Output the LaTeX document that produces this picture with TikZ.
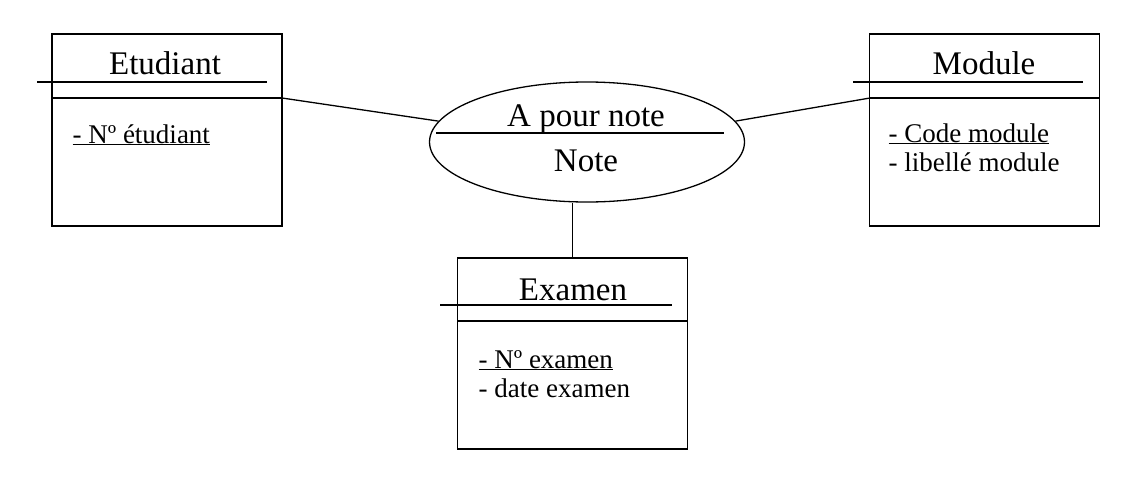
\documentclass[tikz,border=0pt]{standalone}
\usepackage{fontspec}
\setmainfont{Liberation Serif}
\usetikzlibrary{shapes.geometric}

\begin{document}
\begin{tikzpicture}[x=1pt,y=-1pt,line width=1.3pt,
  entity/.style={draw,rectangle,inner sep=0pt,minimum width=230pt,minimum height=192pt},
  assoc/.style={draw,ellipse,inner sep=0pt,minimum width=315pt,minimum height=120pt},
  title/.style={font=\fontsize{33}{36}\selectfont,inner sep=0pt},
  attr/.style={font=\fontsize{27}{31}\selectfont,anchor=base west,inner sep=0pt}]
\useasboundingbox (0,0) rectangle (1128,490);

% Etudiant
\node[entity] (etud) at (167,130) {};
\draw (37,82) -- (267,82);
\draw (52,98) -- (282,98) coordinate (etud-r);
\node[title] (etud-t) at (165,63) {Etudiant};
\node[attr] (etud-a) at (72,143) {\underline{- Nº étudiant}};

% Module
\node[entity] (mod) at (984.5,130) {};
\draw (853,82) -- (1083,82);
\draw (870,98) coordinate (mod-l) -- (1099,98);
\node[title] (mod-t) at (984,63) {Module};
\node[attr] (mod-a) at (888,142) {\underline{- Code module}};
\node[attr] (mod-b) at (888,171) {- libellé module};

% Examen
\node[entity,minimum height=191pt] (exam) at (572.5,353.5) {};
\draw (440,305) -- (672,305);
\draw (457,321) -- (688,321);
\node[title] (exam-t) at (573,290) {Examen};
\node[attr] (exam-a) at (478,368) {\underline{- Nº examen}};
\node[attr] (exam-b) at (478,397) {- date examen};

% association
\node[assoc] (note) at (587,142) {};
\draw (436,133) -- (724,133);
\node[title] (note-t) at (586,119) {A pour note};
\node[title] (note-a) at (586,161) {Note};

% links
\draw (etud-r) -- (note.172);
\draw (mod-l) -- (note.8);
\draw (exam.north) -- (exam.north |- note.south);
\end{tikzpicture}
\end{document}
